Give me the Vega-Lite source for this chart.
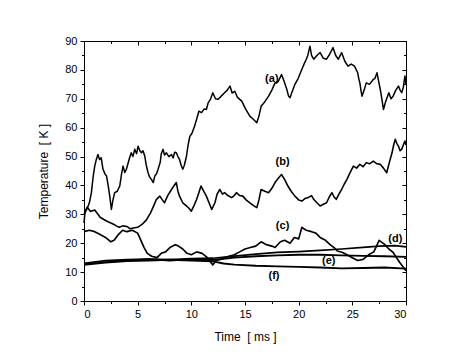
{
  "$schema": "https://vega.github.io/schema/vega-lite/v6.json",
  "width": 322,
  "height": 260,
  "autosize": {"type": "none"},
  "padding": {"left": 84, "top": 41, "right": 65, "bottom": 61},
  "background": "white",
  "config": {
    "view": {"stroke": null},
    "axis": {
      "domainColor": "black", "tickColor": "black", "labelColor": "black", "titleColor": "black",
      "labelFont": "Liberation Sans", "titleFont": "Liberation Sans",
      "labelFontSize": 11, "titleFontSize": 12, "titleFontWeight": "normal",
      "grid": false, "domainWidth": 1, "tickWidth": 1
    }
  },
  "datasets": {
    "curves": [
      {"s":"a","t":0,"T":30},{"s":"a","t":0.3,"T":32},{"s":"a","t":0.5,"T":34},{"s":"a","t":0.69,"T":37.5},{"s":"a","t":0.85,"T":43},{"s":"a","t":1.0,"T":46.7},{"s":"a","t":1.15,"T":49},{"s":"a","t":1.3,"T":50.7},{"s":"a","t":1.45,"T":49},{"s":"a","t":1.6,"T":49.6},{"s":"a","t":1.77,"T":45.6},{"s":"a","t":1.95,"T":44},{"s":"a","t":2.1,"T":43.3},{"s":"a","t":2.25,"T":40},{"s":"a","t":2.4,"T":36.3},{"s":"a","t":2.55,"T":31.7},{"s":"a","t":2.7,"T":35},{"s":"a","t":2.86,"T":37.5},{"s":"a","t":3.1,"T":38},{"s":"a","t":3.33,"T":39.8},{"s":"a","t":3.5,"T":44},{"s":"a","t":3.64,"T":46.7},{"s":"a","t":3.8,"T":44.5},{"s":"a","t":3.95,"T":45.6},{"s":"a","t":4.2,"T":49},{"s":"a","t":4.4,"T":51.3},{"s":"a","t":4.55,"T":50},{"s":"a","t":4.73,"T":52.5},{"s":"a","t":4.9,"T":51},{"s":"a","t":5.04,"T":53.6},{"s":"a","t":5.2,"T":52},{"s":"a","t":5.35,"T":51.3},{"s":"a","t":5.5,"T":52},{"s":"a","t":5.66,"T":50.2},{"s":"a","t":5.8,"T":47},{"s":"a","t":5.97,"T":44.4},{"s":"a","t":6.1,"T":43},{"s":"a","t":6.28,"T":42.1},{"s":"a","t":6.45,"T":41},{"s":"a","t":6.6,"T":43.3},{"s":"a","t":6.75,"T":44},{"s":"a","t":6.9,"T":45.6},{"s":"a","t":7.1,"T":48},{"s":"a","t":7.2,"T":51},{"s":"a","t":7.37,"T":52.5},{"s":"a","t":7.5,"T":50.5},{"s":"a","t":7.68,"T":51.3},{"s":"a","t":7.9,"T":50},{"s":"a","t":8.15,"T":50.7},{"s":"a","t":8.3,"T":49.5},{"s":"a","t":8.45,"T":51.5},{"s":"a","t":8.6,"T":51.3},{"s":"a","t":8.75,"T":50},{"s":"a","t":8.9,"T":49},{"s":"a","t":9.05,"T":47},{"s":"a","t":9.2,"T":45.6},{"s":"a","t":9.35,"T":47},{"s":"a","t":9.55,"T":50.2},{"s":"a","t":9.7,"T":54},{"s":"a","t":9.86,"T":57},{"s":"a","t":10.05,"T":58},{"s":"a","t":10.3,"T":60.5},{"s":"a","t":10.5,"T":63},{"s":"a","t":10.7,"T":65.7},{"s":"a","t":10.95,"T":65.2},{"s":"a","t":11.2,"T":66.5},{"s":"a","t":11.4,"T":66.3},{"s":"a","t":11.57,"T":68.6},{"s":"a","t":11.8,"T":70},{"s":"a","t":12.0,"T":72.1},{"s":"a","t":12.25,"T":70},{"s":"a","t":12.5,"T":69.8},{"s":"a","t":12.8,"T":71},{"s":"a","t":13.1,"T":72.1},{"s":"a","t":13.35,"T":73},{"s":"a","t":13.6,"T":74.4},{"s":"a","t":13.8,"T":72},{"s":"a","t":14.05,"T":72.6},{"s":"a","t":14.3,"T":70.5},{"s":"a","t":14.7,"T":69.2},{"s":"a","t":15.05,"T":66.5},{"s":"a","t":15.45,"T":64},{"s":"a","t":15.75,"T":63},{"s":"a","t":16.1,"T":61.7},{"s":"a","t":16.3,"T":64},{"s":"a","t":16.5,"T":67.4},{"s":"a","t":16.85,"T":69},{"s":"a","t":17.2,"T":70.9},{"s":"a","t":17.5,"T":73},{"s":"a","t":17.8,"T":75.5},{"s":"a","t":18.1,"T":76},{"s":"a","t":18.4,"T":78.4},{"s":"a","t":18.65,"T":76},{"s":"a","t":18.9,"T":73.2},{"s":"a","t":19.05,"T":71},{"s":"a","t":19.2,"T":70.4},{"s":"a","t":19.45,"T":73},{"s":"a","t":19.65,"T":75},{"s":"a","t":19.95,"T":77},{"s":"a","t":20.3,"T":80.2},{"s":"a","t":20.5,"T":82},{"s":"a","t":20.7,"T":83.6},{"s":"a","t":20.85,"T":85},{"s":"a","t":21.05,"T":88.2},{"s":"a","t":21.2,"T":85},{"s":"a","t":21.4,"T":83.7},{"s":"a","t":21.7,"T":85},{"s":"a","t":22.0,"T":86},{"s":"a","t":22.3,"T":84},{"s":"a","t":22.6,"T":83.7},{"s":"a","t":22.9,"T":85.5},{"s":"a","t":23.2,"T":87.7},{"s":"a","t":23.45,"T":85},{"s":"a","t":23.7,"T":83.7},{"s":"a","t":24.0,"T":86},{"s":"a","t":24.3,"T":83},{"s":"a","t":24.6,"T":81.3},{"s":"a","t":24.9,"T":82},{"s":"a","t":25.2,"T":81.3},{"s":"a","t":25.5,"T":79},{"s":"a","t":25.6,"T":77},{"s":"a","t":25.7,"T":75.5},{"s":"a","t":25.8,"T":73},{"s":"a","t":25.9,"T":70.9},{"s":"a","t":26.1,"T":73},{"s":"a","t":26.3,"T":75.5},{"s":"a","t":26.6,"T":75},{"s":"a","t":26.95,"T":76.7},{"s":"a","t":27.1,"T":77},{"s":"a","t":27.3,"T":79},{"s":"a","t":27.45,"T":76},{"s":"a","t":27.6,"T":73.3},{"s":"a","t":27.75,"T":70},{"s":"a","t":27.9,"T":66.3},{"s":"a","t":28.1,"T":69},{"s":"a","t":28.4,"T":72.1},{"s":"a","t":28.6,"T":70},{"s":"a","t":28.8,"T":70.9},{"s":"a","t":29.05,"T":73},{"s":"a","t":29.3,"T":74.4},{"s":"a","t":29.45,"T":73},{"s":"a","t":29.6,"T":72.1},{"s":"a","t":29.75,"T":74},{"s":"a","t":29.9,"T":77.9},{"s":"a","t":30,"T":75},

      {"s":"b","t":0,"T":27},{"s":"b","t":0.1,"T":31},{"s":"b","t":0.3,"T":32.5},{"s":"b","t":0.6,"T":31},{"s":"b","t":1.0,"T":31.5},{"s":"b","t":1.3,"T":30},{"s":"b","t":1.5,"T":29},{"s":"b","t":1.85,"T":28.2},{"s":"b","t":2.2,"T":27.5},{"s":"b","t":2.5,"T":27},{"s":"b","t":2.8,"T":26.5},{"s":"b","t":3.0,"T":26},{"s":"b","t":3.3,"T":25.5},{"s":"b","t":3.6,"T":26},{"s":"b","t":4.0,"T":25.8},{"s":"b","t":4.3,"T":25},{"s":"b","t":4.6,"T":25.3},{"s":"b","t":5.0,"T":25.5},{"s":"b","t":5.4,"T":26.5},{"s":"b","t":5.8,"T":28},{"s":"b","t":6.2,"T":30.5},{"s":"b","t":6.5,"T":33},{"s":"b","t":6.75,"T":35.2},{"s":"b","t":7.06,"T":36.3},{"s":"b","t":7.3,"T":35},{"s":"b","t":7.5,"T":34},{"s":"b","t":7.8,"T":36.5},{"s":"b","t":8.15,"T":38.6},{"s":"b","t":8.4,"T":40},{"s":"b","t":8.6,"T":41},{"s":"b","t":8.75,"T":38},{"s":"b","t":8.9,"T":36.3},{"s":"b","t":9.2,"T":34},{"s":"b","t":9.55,"T":32.9},{"s":"b","t":9.8,"T":32},{"s":"b","t":10.0,"T":31.1},{"s":"b","t":10.25,"T":33},{"s":"b","t":10.5,"T":35.2},{"s":"b","t":10.7,"T":37.5},{"s":"b","t":10.9,"T":39.8},{"s":"b","t":11.15,"T":38},{"s":"b","t":11.4,"T":36.3},{"s":"b","t":11.65,"T":34},{"s":"b","t":11.9,"T":31.7},{"s":"b","t":12.2,"T":34},{"s":"b","t":12.4,"T":37},{"s":"b","t":12.65,"T":38.6},{"s":"b","t":12.9,"T":37},{"s":"b","t":13.1,"T":37.5},{"s":"b","t":13.4,"T":36.5},{"s":"b","t":13.75,"T":35.8},{"s":"b","t":14.0,"T":36.5},{"s":"b","t":14.2,"T":37.5},{"s":"b","t":14.5,"T":36.5},{"s":"b","t":14.8,"T":36.3},{"s":"b","t":15.1,"T":35},{"s":"b","t":15.45,"T":34},{"s":"b","t":15.8,"T":33},{"s":"b","t":16.1,"T":32.3},{"s":"b","t":16.3,"T":35},{"s":"b","t":16.5,"T":38.6},{"s":"b","t":16.85,"T":38},{"s":"b","t":17.2,"T":37.5},{"s":"b","t":17.5,"T":39},{"s":"b","t":17.8,"T":41},{"s":"b","t":18.1,"T":42.5},{"s":"b","t":18.4,"T":43.8},{"s":"b","t":18.7,"T":42},{"s":"b","t":19.0,"T":39.8},{"s":"b","t":19.3,"T":38},{"s":"b","t":19.65,"T":36.3},{"s":"b","t":20.0,"T":35},{"s":"b","t":20.3,"T":34.6},{"s":"b","t":20.6,"T":35.5},{"s":"b","t":20.9,"T":35.8},{"s":"b","t":21.2,"T":36.5},{"s":"b","t":21.4,"T":35.2},{"s":"b","t":21.7,"T":34},{"s":"b","t":22.0,"T":32.9},{"s":"b","t":22.3,"T":33.5},{"s":"b","t":22.6,"T":34},{"s":"b","t":22.85,"T":36},{"s":"b","t":23.1,"T":37.5},{"s":"b","t":23.3,"T":36},{"s":"b","t":23.5,"T":35.2},{"s":"b","t":23.75,"T":37},{"s":"b","t":24.0,"T":38.6},{"s":"b","t":24.25,"T":40.5},{"s":"b","t":24.5,"T":42.1},{"s":"b","t":24.8,"T":44.5},{"s":"b","t":25.1,"T":46.7},{"s":"b","t":25.4,"T":46},{"s":"b","t":25.7,"T":47.3},{"s":"b","t":26.0,"T":46.5},{"s":"b","t":26.3,"T":47.9},{"s":"b","t":26.6,"T":47.5},{"s":"b","t":26.95,"T":48.4},{"s":"b","t":27.3,"T":47.5},{"s":"b","t":27.6,"T":47.3},{"s":"b","t":27.9,"T":46},{"s":"b","t":28.2,"T":44.4},{"s":"b","t":28.45,"T":48},{"s":"b","t":28.7,"T":51.3},{"s":"b","t":28.85,"T":54},{"s":"b","t":29.0,"T":56},{"s":"b","t":29.15,"T":54.5},{"s":"b","t":29.3,"T":53.6},{"s":"b","t":29.45,"T":52},{"s":"b","t":29.6,"T":52.5},{"s":"b","t":29.75,"T":54},{"s":"b","t":29.9,"T":55.4},{"s":"b","t":30,"T":54},

      {"s":"c","t":0,"T":24},{"s":"c","t":0.5,"T":24.5},{"s":"c","t":1,"T":24},{"s":"c","t":1.5,"T":23},{"s":"c","t":2,"T":22},{"s":"c","t":2.5,"T":20.5},{"s":"c","t":2.8,"T":21},{"s":"c","t":3.2,"T":23},{"s":"c","t":3.6,"T":24.5},{"s":"c","t":4,"T":24},{"s":"c","t":4.5,"T":24.5},{"s":"c","t":5,"T":23.5},{"s":"c","t":5.3,"T":21},{"s":"c","t":5.6,"T":18.5},{"s":"c","t":5.9,"T":16.5},{"s":"c","t":6.3,"T":15.5},{"s":"c","t":6.8,"T":15},{"s":"c","t":7.2,"T":16.5},{"s":"c","t":7.6,"T":17},{"s":"c","t":8,"T":18.5},{"s":"c","t":8.5,"T":19.5},{"s":"c","t":8.8,"T":19},{"s":"c","t":9.2,"T":18},{"s":"c","t":9.6,"T":16.5},{"s":"c","t":10,"T":16},{"s":"c","t":10.5,"T":17},{"s":"c","t":11,"T":16.5},{"s":"c","t":11.5,"T":15},{"s":"c","t":12,"T":12.5},{"s":"c","t":12.3,"T":14},{"s":"c","t":12.8,"T":14.5},{"s":"c","t":13.5,"T":15.5},{"s":"c","t":14,"T":16},{"s":"c","t":14.5,"T":17},{"s":"c","t":15,"T":18},{"s":"c","t":15.5,"T":18.5},{"s":"c","t":16,"T":19},{"s":"c","t":16.5,"T":20.5},{"s":"c","t":17,"T":19.5},{"s":"c","t":17.5,"T":19},{"s":"c","t":17.8,"T":18.5},{"s":"c","t":18.3,"T":20.5},{"s":"c","t":18.7,"T":21},{"s":"c","t":19.2,"T":20},{"s":"c","t":19.6,"T":22},{"s":"c","t":20,"T":21.5},{"s":"c","t":20.3,"T":25.5},{"s":"c","t":20.7,"T":24.5},{"s":"c","t":21.2,"T":24},{"s":"c","t":21.6,"T":23.5},{"s":"c","t":22,"T":22},{"s":"c","t":22.5,"T":21},{"s":"c","t":22.9,"T":19.6},{"s":"c","t":23.3,"T":18.5},{"s":"c","t":23.6,"T":17.3},{"s":"c","t":24.1,"T":16.8},{"s":"c","t":24.5,"T":16},{"s":"c","t":25,"T":15},{"s":"c","t":25.5,"T":14},{"s":"c","t":26,"T":14.4},{"s":"c","t":26.6,"T":16.2},{"s":"c","t":27,"T":17},{"s":"c","t":27.5,"T":21},{"s":"c","t":28,"T":19.6},{"s":"c","t":28.4,"T":18},{"s":"c","t":28.8,"T":16.8},{"s":"c","t":29.4,"T":13.4},{"s":"c","t":30,"T":10.5},

      {"s":"d","t":0,"T":12.8},{"s":"d","t":2,"T":13.5},{"s":"d","t":4,"T":14},{"s":"d","t":6,"T":14.5},{"s":"d","t":8,"T":14.3},{"s":"d","t":10,"T":14.7},{"s":"d","t":12,"T":14.8},{"s":"d","t":14,"T":15.5},{"s":"d","t":16,"T":16.2},{"s":"d","t":18,"T":16.8},{"s":"d","t":20,"T":17.1},{"s":"d","t":22,"T":17.5},{"s":"d","t":24,"T":18},{"s":"d","t":26,"T":18.6},{"s":"d","t":27.5,"T":19},{"s":"d","t":29,"T":19.2},{"s":"d","t":30,"T":18.7},

      {"s":"e","t":0,"T":13},{"s":"e","t":2,"T":14},{"s":"e","t":4,"T":14.3},{"s":"e","t":6,"T":14.5},{"s":"e","t":8,"T":14},{"s":"e","t":10,"T":14.5},{"s":"e","t":12,"T":14.2},{"s":"e","t":14,"T":15},{"s":"e","t":16,"T":15.5},{"s":"e","t":18,"T":15.8},{"s":"e","t":20,"T":16},{"s":"e","t":22,"T":16},{"s":"e","t":24,"T":15.8},{"s":"e","t":26,"T":15.6},{"s":"e","t":28,"T":15.5},{"s":"e","t":30,"T":15.3},

      {"s":"f","t":0,"T":12.5},{"s":"f","t":2,"T":13.3},{"s":"f","t":4,"T":13.8},{"s":"f","t":6,"T":14},{"s":"f","t":8,"T":14.3},{"s":"f","t":10,"T":14},{"s":"f","t":12,"T":13.7},{"s":"f","t":13,"T":13},{"s":"f","t":14,"T":12.6},{"s":"f","t":16,"T":12.2},{"s":"f","t":18,"T":12},{"s":"f","t":20,"T":11.8},{"s":"f","t":22,"T":11.6},{"s":"f","t":24,"T":11.3},{"s":"f","t":26,"T":11.4},{"s":"f","t":28,"T":11.6},{"s":"f","t":30,"T":11.2}
    ],
    "labels": [
      {"lab":"(a)","t":17.5,"T":77},
      {"lab":"(b)","t":18.5,"T":48},
      {"lab":"(c)","t":18.5,"T":25.8},
      {"lab":"(d)","t":29.0,"T":21.3},
      {"lab":"(e)","t":22.8,"T":13.7},
      {"lab":"(f)","t":17.7,"T":8.5}
    ]
  },
  "layer": [
    {
      "data": {"name": "curves"},
      "mark": {"type": "line", "color": "black", "strokeJoin": "round"},
      "encoding": {
        "x": {"field": "t", "type": "quantitative", "scale": {"domain": [0, 30], "nice": false, "zero": false},
              "axis": {"orient": "bottom", "values": [0,5,10,15,20,25,30], "tickSize": 4, "labelPadding": 3, "title": "Time\u00a0 [ ms ]", "titlePadding": 12}},
        "y": {"field": "T", "type": "quantitative", "scale": {"domain": [0, 90], "nice": false, "zero": false},
              "axis": {"orient": "left", "values": [0,10,20,30,40,50,60,70,80,90], "tickSize": 4, "labelPadding": 3, "title": "Temperature\u00a0 [ K ]", "titlePadding": 14}},
        "detail": {"field": "s", "type": "nominal"},
        "strokeWidth": {"field": "s", "type": "nominal", "scale": {"domain": ["a","b","c","d","e","f"], "range": [1.5,1.9,2.0,1.4,1.4,1.4]}, "legend": null}
      }
    },
    {
      "data": {"name": "labels"},
      "mark": {"type": "text", "font": "Liberation Sans", "fontSize": 11, "fontWeight": "bold", "color": "black"},
      "encoding": {
        "x": {"field": "t", "type": "quantitative", "axis": {"orient": "top", "values": [0,5,10,15,20,25,30], "tickSize": -4, "labels": false, "title": null}},
        "y": {"field": "T", "type": "quantitative", "axis": {"orient": "right", "values": [0,10,20,30,40,50,60,70,80,90], "tickSize": -4, "labels": false, "title": null}},
        "text": {"field": "lab", "type": "nominal"}
      }
    },
    {
      "data": {"name": "labels"},
      "mark": {"type": "point", "opacity": 0},
      "encoding": {
        "x": {"field": "t", "type": "quantitative", "axis": {"orient": "bottom", "values": [2.5,7.5,12.5,17.5,22.5,27.5], "tickSize": 2.5, "labels": false, "title": null}},
        "y": {"field": "T", "type": "quantitative", "axis": {"orient": "left", "values": [5,15,25,35,45,55,65,75,85], "tickSize": 2.5, "labels": false, "title": null}}
      }
    },
    {
      "data": {"name": "labels"},
      "mark": {"type": "point", "opacity": 0},
      "encoding": {
        "x": {"field": "t", "type": "quantitative", "axis": {"orient": "top", "values": [2.5,7.5,12.5,17.5,22.5,27.5], "tickSize": -2.5, "labels": false, "title": null}},
        "y": {"field": "T", "type": "quantitative", "axis": {"orient": "right", "values": [5,15,25,35,45,55,65,75,85], "tickSize": -2.5, "labels": false, "title": null}}
      }
    }
  ],
  "resolve": {"axis": {"x": "independent", "y": "independent"}}
}
